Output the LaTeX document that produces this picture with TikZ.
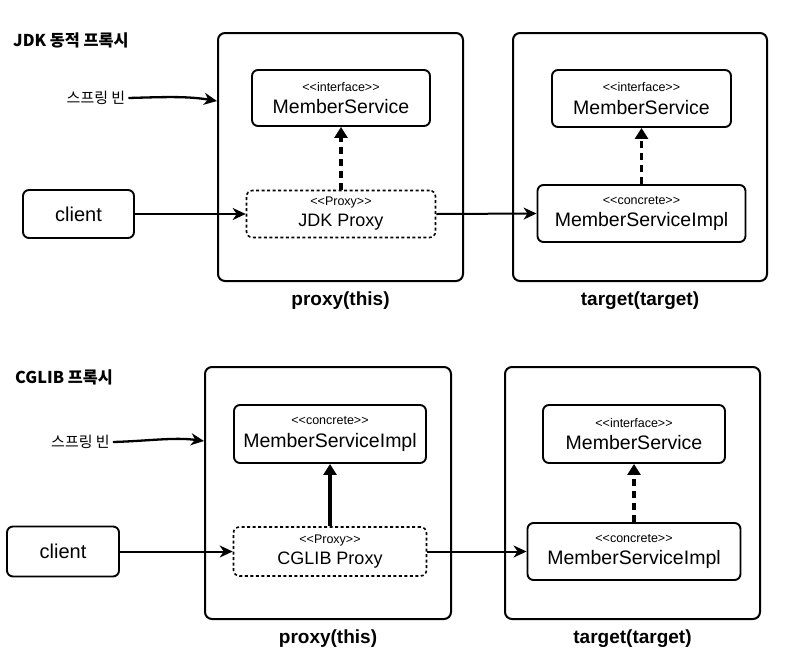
\documentclass[tikz,border=0pt]{standalone}
\usepackage{fontspec}
\usepackage{tikz}
\usetikzlibrary{shapes, arrows.meta, positioning, calc}
\newfontfamily\uifont{Liberation Sans}
\newfontfamily\kofont{Noto Sans CJK KR}
\newcommand{\stereo}[1]{{\fontsize{12.5}{14}\selectfont <<#1>>}}

\begin{document}
\begin{tikzpicture}[x=1pt, y=-1pt,
    every node/.style={font=\uifont},
    frame/.style 2 args={draw, line width=2pt, rounded corners=7pt, minimum width=#1, minimum height=#2},
    cls/.style={draw, line width=1.9pt, rounded corners=6pt, align=center, inner sep=0pt, font=\uifont\fontsize{19.5}{22.5}\selectfont},
    proxybox/.style={cls, dash pattern=on 3pt off 2.5pt, line width=1.6pt, font=\uifont\fontsize{18}{21}\selectfont},
    call/.style={-{Stealth[length=13pt, width=12pt, inset=4pt]}, line width=2pt},
    realize/.style={-{Triangle[length=11pt, width=13pt]}, line width=3.5pt, dash pattern=on 7pt off 5pt},
    extend/.style={-{Triangle[length=11pt, width=13pt]}, line width=3.5pt},
    caption/.style={font=\uifont\bfseries\fontsize{19}{22}\selectfont},
    heading/.style={anchor=west, inner sep=0pt, font=\kofont\bfseries\fontsize{16.3}{19}\selectfont},
    bean/.style={inner sep=3pt, font=\kofont\fontsize{15}{18}\selectfont}]
    \useasboundingbox (0,0) rectangle (789,665);

    % JDK dynamic proxy
    \node[heading] (title1) at (13,40) {JDK 동적 프록시};
    \node[frame={245pt}{248pt}] (proxy1) at (340.5,157) {};
    \node[frame={254pt}{248pt}] (target1) at (640,157) {};
    \node[caption, below=6pt of proxy1] (cap1) {proxy(this)};
    \node[caption, below=6pt of target1] (cap2) {target(target)};
    \node[bean] (sb1) at (96,98) {스프링 빈};
    \coordinate (bean1) at (217,101);
    \node[cls, minimum width=178pt, minimum height=56pt] (iface1) at (341,98) {\stereo{interface}\\MemberService};
    \node[proxybox, minimum width=189pt, minimum height=47pt] (jdk) at (341,214) {\stereo{Proxy}\\JDK Proxy};
    \node[cls, minimum width=111pt, minimum height=48pt, font=\uifont\fontsize{20}{22}\selectfont] (client1) at (78.5,214) {client};
    \node[cls, minimum width=179pt, minimum height=57pt] (iface2) at (641.5,98.5) {\stereo{interface}\\MemberService};
    \node[cls, minimum width=208pt, minimum height=57pt] (impl1) at (641.5,213.5) {\stereo{concrete}\\MemberServiceImpl};
    \draw[call, line width=2.3pt] (sb1.east) .. controls +(35,-1) and +(-30,-5) .. (bean1);
    \draw[realize] (jdk.north) -- (iface1.south);
    \draw[call] (client1.east) -- (jdk.west);
    \draw[call] (jdk.east) -- (impl1.west);
    \draw[realize] (impl1.north) -- (iface2.south);

    % CGLIB proxy
    \node[heading] (title2) at (15,377) {CGLIB 프록시};
    \node[frame={246pt}{252pt}] (proxy2) at (328,493) {};
    \node[frame={255pt}{252pt}] (target2) at (632.5,493) {};
    \node[caption, below=6pt of proxy2] (cap3) {proxy(this)};
    \node[caption, below=6pt of target2] (cap4) {target(target)};
    \node[bean] (sb2) at (80.5,442) {스프링 빈};
    \coordinate (bean2) at (204,441);
    \node[cls, minimum width=192pt, minimum height=58pt] (impl2) at (330,434) {\stereo{concrete}\\MemberServiceImpl};
    \node[proxybox, minimum width=193pt, minimum height=49pt] (cglib) at (330,551.5) {\stereo{Proxy}\\CGLIB Proxy};
    \node[cls, minimum width=112pt, minimum height=50pt, font=\uifont\fontsize{20}{22}\selectfont] (client2) at (63,551.5) {client};
    \node[cls, minimum width=182pt, minimum height=58pt] (iface3) at (634,434) {\stereo{interface}\\MemberService};
    \node[cls, minimum width=213pt, minimum height=57pt] (impl3) at (634,551.5) {\stereo{concrete}\\MemberServiceImpl};
    \draw[call, line width=2.3pt] (sb2.east) .. controls +(35,-1) and +(-30,-4) .. (bean2);
    \draw[extend] (cglib.north) -- (impl2.south);
    \draw[call] (client2.east) -- (cglib.west);
    \draw[call] (cglib.east) -- (impl3.west);
    \draw[realize] (impl3.north) -- (iface3.south);
\end{tikzpicture}
\end{document}
